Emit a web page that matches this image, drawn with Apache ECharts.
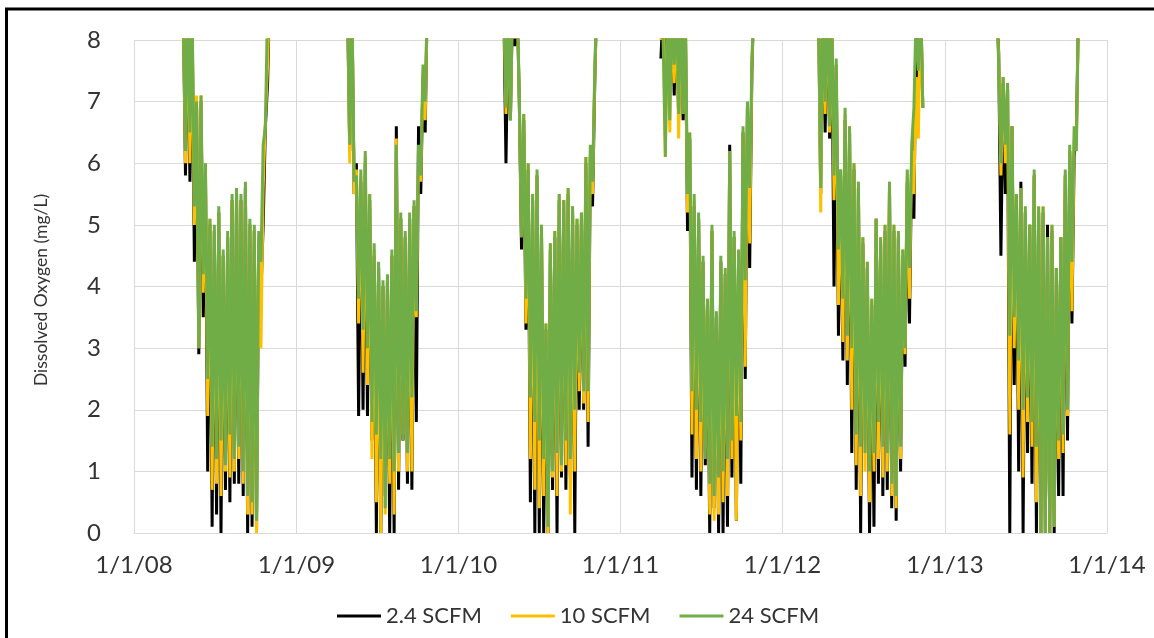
<!DOCTYPE html>
<html>
<head>
<meta charset="utf-8">
<script src="https://cdn.jsdelivr.net/npm/echarts@6/dist/echarts.min.js"></script>
<style>
html,body{margin:0;padding:0;background:#fff;}
#chart{width:1154px;height:638px;}
</style>
</head>
<body>
<div id="chart"></div>
<script>
// ---- data ----
const seriesNames = ['2.4 SCFM', '10 SCFM', '24 SCFM'];
const yAxisTitle = 'Dissolved Oxygen (mg/L)';
const seasonStarts = ['2008-04-21', '2009-04-26', '2010-04-13', '2011-04-02', '2012-03-22', '2013-04-27'];
const stepDays = 5;
const xTickLabels = ['1/1/08', '1/1/09', '1/1/10', '1/1/11', '1/1/12', '1/1/13', '1/1/14'];

// 2.4 SCFM, one list per season
const scfm2_4 = [
  [8.5,5.8,8.6,5.7,8.3,4.4,6.9,2.9,7.0,3.5,5.8,1.0,5.0,0.1,4.9,0.3,5.2,0.0,4.5,0.7,4.8,0.5,5.4,0.8,5.5,0.8,5.4,0.6,5.6,0.0,5.0,0.1,4.9,0.0,4.7,3.9,5.0,6.6,7.3,8.9],
  [8.6,6.2,8.5,5.5,6.0,1.9,5.7,2.0,6.0,1.9,5.4,1.5,4.5,0.0,4.3,0.0,4.0,0.6,4.1,0.0,4.5,0.0,6.6,0.7,5.1,1.5,4.8,0.8,5.1,0.7,5.3,1.8,6.6,5.5,7.4,6.5,8.8],
  [8.6,6.0,8.4,6.7,8.7,7.9,8.7,7.0,4.6,6.7,3.3,5.9,0.5,5.4,0.0,5.8,0.0,4.9,0.0,3.3,0.0,4.6,0.7,4.8,0.0,5.4,0.9,5.4,0.7,5.5,0.9,5.2,0.0,5.0,2.0,5.1,2.0,6.0,1.4,6.1,5.3,7.3,8.8],
  [7.7,8.5,7.0,8.6,7.5,8.5,7.1,8.7,6.7,8.6,6.7,8.4,4.9,6.4,0.9,5.3,0.7,5.1,0.6,4.4,1.1,3.7,0.0,4.9,0.4,3.5,0.0,4.4,0.0,4.2,0.1,6.3,0.9,4.8,0.2,4.5,0.8,6.5,2.5,6.9,4.3,7.5,8.8],
  [8.6,5.5,8.7,6.5,8.7,6.4,8.4,4.0,7.6,3.2,5.8,2.8,6.7,2.4,6.5,1.3,5.9,0.7,5.6,0.0,4.7,1.5,4.3,0.0,3.7,0.1,5.1,0.8,4.7,0.6,4.9,0.7,5.6,0.4,4.9,0.2,4.8,1.0,4.5,2.7,5.7,3.4,6.1,5.1,8.4,7.1,8.7,6.9],
  [8.6,7.8,4.5,7.3,5.5,7.2,0.0,6.6,2.4,5.5,1.0,5.7,0.0,5.2,1.3,5.0,0.8,5.8,0.0,5.2,0.0,5.2,0.0,5.0,0.0,4.9,0.0,4.3,0.6,4.8,0.6,5.8,1.5,6.2,3.4,6.1,6.5,8.6,8.9]
];

// 10 SCFM
const scfm10 = [
  [8.6,6.0,8.7,6.0,8.4,5.0,7.1,3.0,7.1,3.9,5.9,1.9,5.1,0.7,4.9,0.8,5.2,0.6,4.5,1.0,4.8,0.9,5.4,1.0,5.5,1.2,5.4,0.8,5.6,0.3,5.0,0.3,4.9,0.0,4.8,3.0,5.6,6.7,7.6,8.9],
  [8.7,6.0,8.6,5.5,5.9,3.4,5.8,2.6,6.1,2.4,5.5,1.2,4.6,0.5,4.3,0.0,4.0,0.3,4.1,0.8,4.5,0.3,6.4,1.0,5.1,1.6,4.8,1.0,5.1,1.0,5.3,3.5,6.1,5.7,7.5,6.7,8.8],
  [8.7,6.8,8.5,6.7,8.8,8.3,8.8,7.0,4.8,6.8,3.4,6.0,1.2,5.5,0.7,5.8,0.4,5.0,0.6,3.4,0.0,4.7,0.9,4.9,0.6,5.5,1.0,5.4,1.1,5.6,0.3,5.3,1.0,5.1,2.3,5.2,2.1,6.1,1.8,6.2,5.5,7.4,8.8],
  [8.0,8.5,6.1,8.6,6.5,8.5,7.3,8.7,6.4,8.6,6.8,8.4,5.2,6.5,1.6,5.4,1.2,5.1,1.0,4.4,1.4,3.8,0.3,4.9,0.2,3.5,0.3,4.4,0.5,4.2,0.6,6.2,1.2,4.8,0.2,4.5,1.5,6.5,2.7,6.9,4.7,7.6,8.8],
  [8.7,5.2,8.8,6.8,8.8,6.5,8.5,5.4,7.6,3.7,5.9,3.1,6.8,2.8,6.6,2.0,6.0,1.1,5.7,0.6,4.8,1.0,4.4,0.5,3.8,1.0,5.1,1.2,4.8,0.9,5.0,1.0,5.7,0.6,5.0,0.4,4.9,1.2,4.6,2.9,5.8,3.8,6.2,5.5,7.4,6.4,8.8,6.9],
  [8.7,7.7,5.8,7.4,6.0,7.3,1.6,6.6,3.0,5.5,2.0,5.6,0.9,5.2,1.8,5.0,1.4,5.8,0.5,5.3,0.0,5.3,0.0,4.8,0.0,5.0,0.1,4.3,1.2,4.8,1.3,5.8,1.9,6.2,3.6,6.4,6.3,8.6,8.9]
];

// 24 SCFM
const scfm24 = [
  [8.6,6.2,8.8,6.5,8.5,5.3,7.0,3.0,7.1,4.2,6.0,2.5,5.1,1.4,5.0,1.2,5.3,1.5,4.6,1.1,4.9,1.6,5.5,1.2,5.6,1.4,5.5,1.0,5.7,0.6,5.1,0.5,5.0,0.2,4.9,4.4,6.3,6.6,8.6,8.9],
  [8.7,6.3,8.6,5.7,5.8,3.8,5.9,3.3,6.2,3.0,5.5,1.8,4.7,1.6,4.4,1.2,4.1,0.4,4.2,1.2,4.6,1.0,6.3,1.3,5.2,1.5,4.9,1.3,5.2,2.2,5.4,3.6,6.3,5.8,7.6,7.0,8.8],
  [8.7,6.9,8.5,6.7,8.8,8.5,8.8,7.1,4.8,6.8,3.8,6.0,2.2,5.5,1.8,5.9,1.5,5.0,1.2,3.4,0.1,4.7,1.0,4.9,1.3,5.5,1.1,5.4,1.5,5.6,1.2,5.3,2.0,5.1,2.6,5.2,2.3,6.1,2.3,6.3,5.7,7.5,8.8],
  [8.6,8.0,6.1,8.7,6.7,8.6,7.6,8.8,6.8,8.7,6.8,8.5,5.5,6.5,2.3,5.5,2.0,5.2,1.8,4.5,1.2,3.8,0.8,5.0,0.6,3.6,0.9,4.5,1.0,4.3,1.2,6.2,1.5,4.9,1.9,4.6,1.8,6.6,4.1,7.0,5.6,7.6,8.8],
  [8.7,5.6,8.8,7.0,8.8,6.6,8.5,5.8,7.7,4.6,5.9,3.8,6.9,3.2,6.6,3.0,6.0,1.6,5.7,1.4,4.8,1.3,4.4,1.0,3.8,1.3,5.1,1.8,4.8,1.4,5.0,1.3,5.7,0.8,5.0,0.6,4.9,1.4,4.6,3.0,5.9,4.3,6.3,6.9,8.5,7.5,8.8,6.9],
  [8.7,7.6,6.0,7.4,6.3,7.3,3.2,6.6,3.5,5.5,2.8,5.6,2.0,5.3,2.2,5.0,1.8,5.9,1.4,5.3,0.0,5.3,0.0,4.8,0.0,5.0,0.1,4.3,1.5,4.8,1.6,5.9,2.0,6.3,4.4,6.6,6.2,8.7,8.9]
];

const seriesColors = ['#000000', '#FFC000', '#70AD47'];

// ---- build [time, value] pairs; a gap between seasons ----
const DAY = 86400000;
function parseLocal(s) {
  const p = s.split('-').map(Number);
  return new Date(p[0], p[1] - 1, p[2]).getTime();
}
function buildData(seasons) {
  const out = [];
  seasons.forEach((vals, s) => {
    const t0 = parseLocal(seasonStarts[s]);
    vals.forEach((v, i) => out.push([t0 + i * stepDays * DAY, v]));
    out.push([t0 + vals.length * stepDays * DAY, '-']);
  });
  return out;
}
const allSeries = [scfm2_4, scfm10, scfm24];

const FONT = 'Lato';
const TEXT = '#333333';
const chart = echarts.init(document.getElementById('chart'), null, {renderer: 'canvas'});
chart.setOption({
  animation: false,
  backgroundColor: '#ffffff',
  grid: {left: 134, right: 47, top: 40, bottom: 105, containLabel: false, outerBoundsMode: 'none'},
  xAxis: {
    type: 'time',
    min: new Date(2008, 0, 1).getTime(),
    max: new Date(2014, 0, 1).getTime(),
    minInterval: 365 * DAY,
    maxInterval: 366 * DAY,
    axisLine: {show: true, lineStyle: {color: '#d9d9d9', width: 1}},
    axisTick: {show: false},
    splitLine: {show: true, lineStyle: {color: '#d9d9d9', width: 1}},
    axisLabel: {
      fontFamily: FONT, fontSize: 24, color: TEXT, margin: 20,
      showMinLabel: true, showMaxLabel: true, hideOverlap: false,
      formatter: function (val) { return xTickLabels[new Date(val).getFullYear() - 2008]; }
    }
  },
  yAxis: {
    type: 'value', min: 0, max: 8, interval: 1,
    axisLine: {show: false}, axisTick: {show: false},
    splitLine: {show: true, lineStyle: {color: '#d9d9d9', width: 1}},
    axisLabel: {fontFamily: FONT, fontSize: 24, color: TEXT, margin: 33}
  },
  legend: {
    data: seriesNames, top: 600, left: 332,
    icon: 'rect', itemWidth: 44, itemHeight: 3, itemGap: 29,
    textStyle: {fontFamily: FONT, fontSize: 22, color: TEXT}
  },
  series: seriesNames.map((name, k) => ({
    name: name, type: 'line', showSymbol: false, symbol: 'none',
    connectNulls: false, clip: true,
    color: seriesColors[k],
    lineStyle: {color: seriesColors[k], width: 3},
    data: buildData(allSeries[k])
  })),
  graphic: [
    {type: 'line', shape: {x1: 5, y1: 9, x2: 1154, y2: 9}, style: {stroke: '#000', lineWidth: 3}},
    {type: 'line', shape: {x1: 6.5, y1: 8, x2: 6.5, y2: 638}, style: {stroke: '#000', lineWidth: 3}},
    {type: 'text', x: 41, y: 290, rotation: Math.PI / 2,
     style: {text: yAxisTitle, font: '17.5px Lato', fill: TEXT, align: 'center', verticalAlign: 'middle'}}
  ]
});
</script>
</body>
</html>
